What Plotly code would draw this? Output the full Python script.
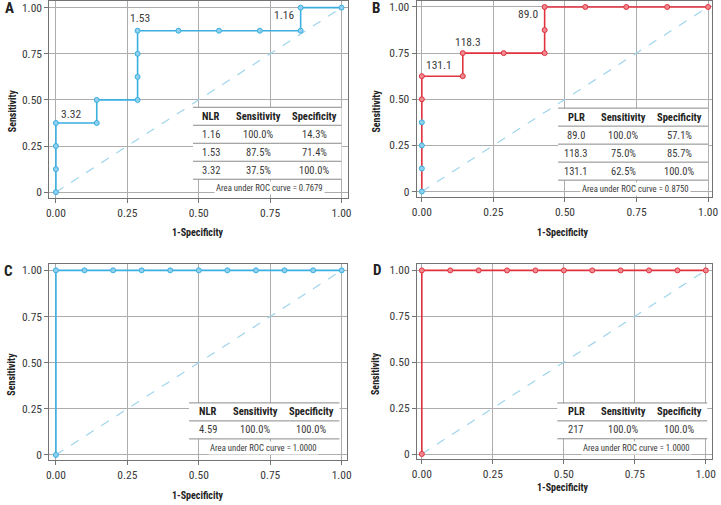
import plotly.graph_objects as go

# ---------------- data ----------------
a_fpr = [0, 0, 0, 0, 0.143, 0.143, 0.286, 0.286, 0.286, 0.286, 0.429, 0.571, 0.714, 0.857, 0.857, 1.0]
a_tpr = [0, 0.125, 0.25, 0.375, 0.375, 0.5, 0.5, 0.625, 0.75, 0.875, 0.875, 0.875, 0.875, 0.875, 1.0, 1.0]

b_fpr = [0, 0, 0, 0, 0, 0, 0.143, 0.143, 0.286, 0.429, 0.429, 0.429, 0.571, 0.714, 0.857, 1.0]
b_tpr = [0, 0.125, 0.25, 0.375, 0.5, 0.625, 0.625, 0.75, 0.75, 0.75, 0.875, 1.0, 1.0, 1.0, 1.0, 1.0]

c_fpr = [0, 0, 0.1, 0.2, 0.3, 0.4, 0.5, 0.6, 0.7, 0.8, 0.9, 1.0]
c_tpr = [0, 1, 1, 1, 1, 1, 1, 1, 1, 1, 1, 1]

d_fpr = [0, 0, 0.1, 0.2, 0.3, 0.4, 0.5, 0.6, 0.7, 0.8, 0.9, 1.0]
d_tpr = [0, 1, 1, 1, 1, 1, 1, 1, 1, 1, 1, 1]

a_cut_labels = ["3.32", "1.53", "1.16"]
a_cut_x = [0.0, 0.286, 0.857]
a_cut_y = [0.375, 0.875, 0.875]
b_cut_labels = ["131.1", "118.3", "89.0"]
b_cut_x = [0.0, 0.143, 0.429]
b_cut_y = [0.625, 0.75, 0.75]

a_header = ["NLR", "Sensitivity", "Specificity"]
a_rows = [["1.16", "100.0%", "14.3%"], ["1.53", "87.5%", "71.4%"], ["3.32", "37.5%", "100.0%"]]
a_auc = "0.7679"
b_header = ["PLR", "Sensitivity", "Specificity"]
b_rows = [["89.0", "100.0%", "57.1%"], ["118.3", "75.0%", "85.7%"], ["131.1", "62.5%", "100.0%"]]
b_auc = "0.8750"
c_header = ["NLR", "Sensitivity", "Specificity"]
c_rows = [["4.59", "100.0%", "100.0%"]]
c_auc = "1.0000"
d_header = ["PLR", "Sensitivity", "Specificity"]
d_rows = [["217", "100.0%", "100.0%"]]
d_auc = "1.0000"

x_tickvals = [0, 0.25, 0.5, 0.75, 1.0]
x_ticktext = ["0.00", "0.25", "0.50", "0.75", "1.00"]
y_tickvals = [0, 0.25, 0.5, 0.75, 1.0]
y_ticktext = ["0", "0.25", "0.50", "0.75", "1.00"]
panel_letters = ["A", "B", "C", "D"]

# ---------------- style ----------------
W, H = 721, 505
BLUE = "#3aafe0"
BLUE_FILL = "#8fd0ee"
RED = "#e0323f"
RED_FILL = "#f08a90"
DIAG = "#9fd5ec"
GRID = "#adadad"
AXIS = "#737373"
TXT = "#3a3a3a"
FONT = "Roboto Condensed, Roboto, Arial, sans-serif"

def px(x):
    return x / W

def py(y):
    return 1 - y / H

panels = [
    dict(xd=[px(45), px(348)], yd=[py(198), py(0.5)], xr=[-0.0231, 1.0217], yr=[-0.0307, 1.0334],
         tl=0.48, tr=1.0, cols=[0.543, 0.708, 0.904], ac=0.747, top=0.46),
    dict(xd=[px(418), px(718)], yd=[py(197), py(0.5)], xr=[-0.0182, 1.0138], yr=[-0.0285, 1.0296],
         tl=0.476, tr=1.0, cols=[0.539, 0.705, 0.901], ac=0.745, top=0.452),
    dict(xd=[px(45), px(347.7)], yd=[py(461.7), py(265)], xr=[-0.0231, 1.020], yr=[-0.027, 1.032],
         tl=0.466, tr=0.992, cols=[0.532, 0.697, 0.893], ac=0.728, top=0.282),
    dict(xd=[px(418.3), px(717.7)], yd=[py(460.7), py(265)], xr=[-0.0173, 1.0208], yr=[-0.027, 1.0325],
         tl=0.477, tr=1.005, cols=[0.543, 0.711, 0.907], ac=0.755, top=0.278),
]

curves = [(a_fpr, a_tpr, BLUE, BLUE_FILL), (b_fpr, b_tpr, RED, RED_FILL),
          (c_fpr, c_tpr, BLUE, BLUE_FILL), (d_fpr, d_tpr, RED, RED_FILL)]
tables = [(a_header, a_rows, a_auc), (b_header, b_rows, b_auc),
          (c_header, c_rows, c_auc), (d_header, d_rows, d_auc)]

fig = go.Figure()
layout = dict(width=W, height=H, margin=dict(l=0, r=0, t=0, b=0),
              paper_bgcolor="white", plot_bgcolor="white", showlegend=False,
              font=dict(family=FONT, color=TXT))
shapes = []
annotations = []

for i, p in enumerate(panels):
    n = i + 1
    xa = "x" if n == 1 else f"x{n}"
    ya = "y" if n == 1 else f"y{n}"
    axcommon = dict(showgrid=True, gridcolor=GRID, gridwidth=1, zeroline=False,
                    showline=True, mirror=True, linecolor=AXIS, linewidth=1,
                    ticks="outside", ticklen=4, tickcolor=AXIS, ticklabeloverflow="allow",
                    tickfont=dict(size=11.5, color=TXT, family=FONT))
    layout["xaxis" if n == 1 else f"xaxis{n}"] = dict(
        domain=p["xd"], range=p["xr"], anchor=ya, tickvals=x_tickvals, ticktext=x_ticktext, **axcommon)
    layout["yaxis" if n == 1 else f"yaxis{n}"] = dict(
        domain=p["yd"], range=p["yr"], anchor=xa, tickvals=y_tickvals, ticktext=y_ticktext, **axcommon)

    # diagonal reference
    fig.add_trace(go.Scatter(x=[0, 1], y=[0, 1], mode="lines", xaxis=xa, yaxis=ya,
                             line=dict(color=DIAG, width=1.2, dash="dash"), hoverinfo="skip"))
    fx, ty, col, fill = curves[i]
    mcol = [fill] * len(fx)
    lcol = [col] * len(fx)
    if i == 1:
        for k in range(4):
            mcol[k] = BLUE_FILL
            lcol[k] = BLUE
    fig.add_trace(go.Scatter(x=fx, y=ty, mode="lines+markers", xaxis=xa, yaxis=ya,
                             line=dict(color=col, width=1.6),
                             marker=dict(size=5, color=mcol, line=dict(color=lcol, width=1))))

    # table
    header, rows, auc = tables[i]
    rh = 0.0975
    top = p["top"]
    nlines = len(rows) + 1
    last_line = top - nlines * rh
    shapes.append(dict(type="rect", xref=xa, yref=ya, x0=p["tl"], x1=p["tr"],
                       y0=last_line, y1=top, fillcolor="white",
                       line=dict(width=0), layer="above"))
    for k in range(nlines + 1):
        yy = top - k * rh
        shapes.append(dict(type="line", xref=xa, yref=ya, x0=p["tl"], x1=p["tr"], y0=yy, y1=yy,
                           line=dict(color="#8a8a8a", width=1), layer="above"))
    for j, h in enumerate(header):
        annotations.append(dict(x=p["cols"][j], y=top - 0.5 * rh, xref=xa, yref=ya, text=f"<b>{h}</b>",
                                showarrow=False, font=dict(size=10.5, color="#222", family=FONT)))
    for r, row in enumerate(rows):
        for j, v in enumerate(row):
            annotations.append(dict(x=p["cols"][j], y=top - (r + 1.5) * rh, xref=xa, yref=ya, text=v,
                                    showarrow=False, font=dict(size=10.5, color=TXT, family=FONT)))
    annotations.append(dict(x=p["ac"], y=last_line - 0.5 * rh, xref=xa, yref=ya,
                            text=f"Area under ROC curve = {auc}", showarrow=False,
                            bgcolor="white", borderpad=1,
                            font=dict(size=8.7, color=TXT, family=FONT)))

# cut-off labels
for (lab, xx, yy), xa, ya, spec in [
    ((a_cut_labels[0], a_cut_x[0], a_cut_y[0]), "x", "y", ("left", "bottom", 0.012, 0.0)),
    ((a_cut_labels[1], a_cut_x[1], a_cut_y[1]), "x", "y", ("center", "bottom", 0.009, 0.022)),
    ((a_cut_labels[2], a_cut_x[2], a_cut_y[2]), "x", "y", ("right", "middle", -0.018, 0.086)),
    ((b_cut_labels[0], b_cut_x[0], b_cut_y[0]), "x2", "y2", ("left", "bottom", 0.006, 0.01)),
    ((b_cut_labels[1], b_cut_x[1], b_cut_y[1]), "x2", "y2", ("center", "bottom", 0.017, 0.012)),
    ((b_cut_labels[2], b_cut_x[2], b_cut_y[2]), "x2", "y2", ("right", "middle", -0.016, 0.211)),
]:
    annotations.append(dict(x=xx + spec[2], y=yy + spec[3], xref=xa, yref=ya, text=lab,
                            xanchor=spec[0], yanchor=spec[1], showarrow=False,
                            font=dict(size=11.5, color=TXT, family=FONT)))

# axis titles
for (cx, cy) in [(196, 233), (566.7, 233), (196, 497), (566.7, 489)]:
    annotations.append(dict(x=px(cx), y=py(cy), xref="paper", yref="paper", text="<b>1-Specificity</b>",
                            showarrow=False, xanchor="center", yanchor="middle",
                            font=dict(size=10, color="#222", family=FONT)))
for (cx, cy) in [(7, 110), (377, 111), (7, 375), (377, 375)]:
    annotations.append(dict(x=px(cx), y=py(cy), xref="paper", yref="paper", text="<b>Sensitivity</b>",
                            showarrow=False, xanchor="center", yanchor="middle", textangle=-90,
                            font=dict(size=10, color="#222", family=FONT)))
# panel letters
for lab, (cx, cy) in zip(panel_letters, [(5, 7), (377, 7), (4, 272), (378, 271)]):
    annotations.append(dict(x=px(cx), y=py(cy), xref="paper", yref="paper", text=f"<b>{lab}</b>",
                            showarrow=False, xanchor="center", yanchor="middle",
                            font=dict(size=15, color="#222", family=FONT)))

layout["shapes"] = shapes
layout["annotations"] = annotations
fig.update_layout(**layout)
fig.write_html("out.html", config={"displayModeBar": False},
               post_script="document.body.style.margin='0';document.body.style.overflow='hidden';")
